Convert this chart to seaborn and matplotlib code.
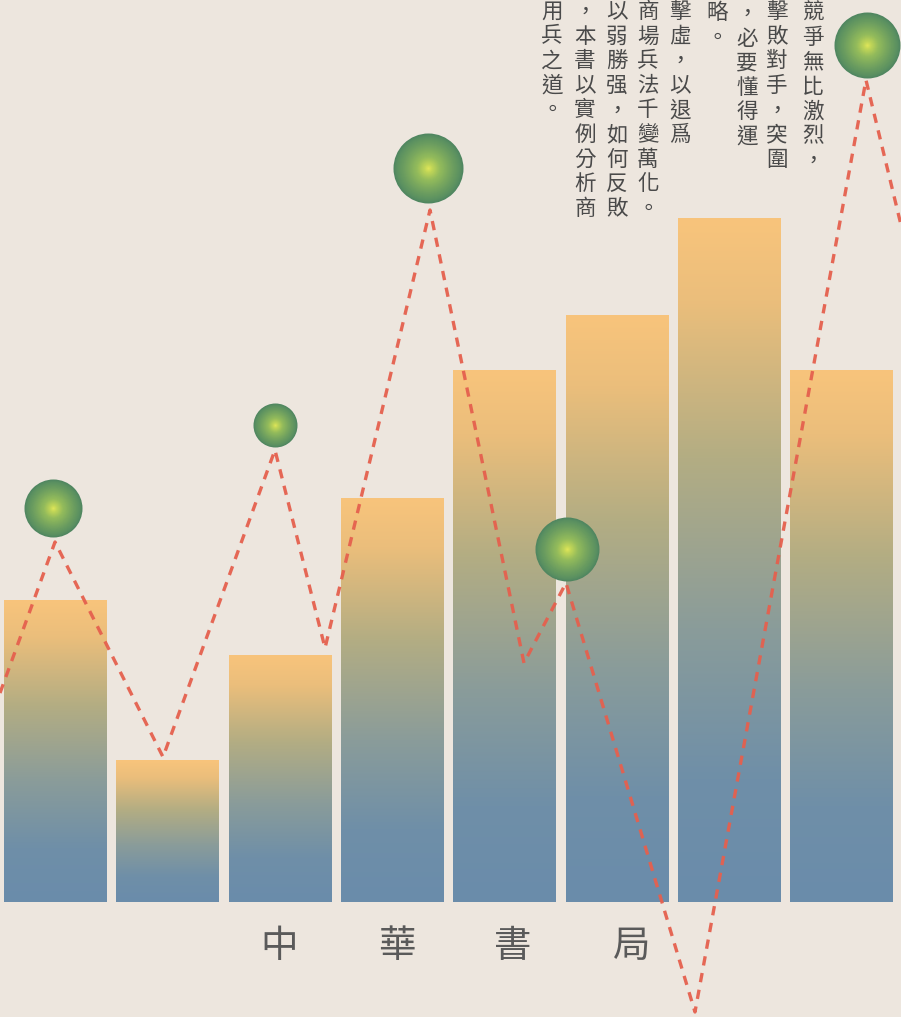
import numpy as np
import matplotlib
matplotlib.use("Agg")
import matplotlib.pyplot as plt
import seaborn as sns
import pandas as pd
from matplotlib.colors import LinearSegmentedColormap

# ---------------- data ----------------
categories = ["1", "2", "3", "4", "5", "6", "7", "8"]
bar_values = [30.2, 14.2, 24.7, 40.4, 53.2, 58.7, 68.4, 53.2]

line_x = [-0.495, -0.005, 0.957, 1.954, 2.400, 3.335, 4.172, 4.546, 5.695, 7.218, 7.530]
line_y = [20.9, 36.0, 14.5, 45.2, 25.4, 69.2, 23.9, 31.9, -11.0, 82.2, 67.7]

ball_x = [-0.023, 1.954, 3.317, 4.555, 7.227]
ball_y = [39.4, 47.7, 73.4, 35.3, 85.7]
ball_radius = [29, 22, 35, 32, 33]

text_columns = [
    "競爭無比激烈，",
    "擊敗對手，突圍",
    "，必要懂得運",
    "略。",
    "擊虛，以退爲",
    "商場兵法千變萬化。",
    "以弱勝强，如何反敗",
    "，本書以實例分析商",
    "用兵之道。",
]
publisher = "中華書局"

# ---------------- style ----------------
W, H = 901, 1017
BG = "#ede6de"
sns.set_theme(style="white")
plt.rcParams["font.family"] = ["Noto Sans CJK TC", "DejaVu Sans"]

fig = plt.figure(figsize=(W / 100, H / 100), dpi=100, facecolor=BG)
ax = fig.add_axes([0, 0, 1, 1])
ax.set_facecolor(BG)

df = pd.DataFrame({"cat": categories, "val": bar_values})
sns.barplot(data=df, x="cat", y="val", width=0.915, color="#6a8dab",
            linewidth=0, ax=ax, zorder=2)

xlim = (-0.495, 7.530)
ylim = (-11.5, 90.2)

bar_cmap = LinearSegmentedColormap.from_list(
    "bar", [(0.0, "#f8c47c"), (0.12, "#ebbe7b"), (0.35, "#b3ad83"),
            (0.6, "#8a9c9a"), (0.82, "#6f8fa8"), (1.0, "#6a8cab")])
grad = np.linspace(0, 1, 256).reshape(-1, 1)
for p in list(ax.patches):
    x0, y0 = p.get_x(), p.get_y()
    w, h = p.get_width(), p.get_height()
    im = ax.imshow(grad, cmap=bar_cmap, aspect="auto",
                   extent=[x0, x0 + w, y0, y0 + h], origin="upper",
                   zorder=2.5, interpolation="bicubic")
    im.set_clip_path(p)

sns.lineplot(x=line_x, y=line_y, ax=ax, color="#e5604e", lw=2.4,
             linestyle=(0, (2.8, 2.3)), sort=False, zorder=4, alpha=0.95)

ball_cmap = LinearSegmentedColormap.from_list(
    "ball", [(0.0, "#e4e85a"), (0.12, "#c2d657"), (0.35, "#93bb5b"),
             (0.7, "#6e9f5f"), (0.92, "#5a9060"), (1.0, "#4f8660")])
n = 36
for bx, by, r in zip(ball_x, ball_y, ball_radius):
    d_pt = 2 * r * 72 / 100
    for k in range(n):
        f = 1 - k / n
        ax.scatter([bx], [by], s=(d_pt * f) ** 2, color=ball_cmap(f),
                   linewidths=0, zorder=5 + k * 0.001)

ax.set_xlim(*xlim)
ax.set_ylim(*ylim)
ax.axis("off")

# ---------------- text ----------------
col_x = [813, 777, 747, 717, 680, 648, 617, 585, 552]
col_top = [13, 12, 14, 13, 12, 12, 12, 12, 12]
step = 24.6
for cx, top, txt in zip(col_x, col_top, text_columns):
    for i, ch in enumerate(txt):
        fig.text(cx / W, 1 - (top + i * step) / H, ch, fontsize=15.5,
                 color="#4a4a4a", ha="center", va="center")

pub_x = [279, 397, 513, 632]
for px, ch in zip(pub_x, publisher):
    fig.text(px / W, 1 - 947 / H, ch, fontsize=27, color="#5a5a5a",
             ha="center", va="center")

fig.savefig("out.png", dpi=100, facecolor=BG)
